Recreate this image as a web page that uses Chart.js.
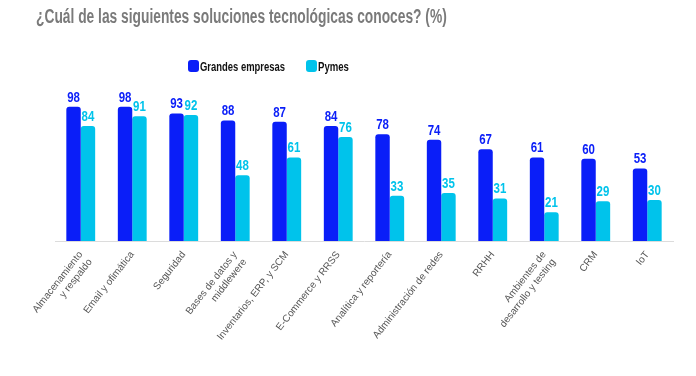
<!DOCTYPE html>
<html>
<head>
<script src="https://cdn.jsdelivr.net/npm/chart.js"></script>
<style>
  body { margin: 0; background: #fff; }
  #wrap { position: relative; width: 696px; height: 376px; font-family: 'Liberation Sans', Arial, sans-serif; }
  #title { position: absolute; left: 36px; top: 5px; font-size: 20px; font-weight: bold; color: #7a7a7a; white-space: nowrap; transform-origin: 0 0; }
  .lg { position: absolute; top: 59px; font-size: 13px; font-weight: bold; color: #111; white-space: nowrap; transform-origin: 0 0; }
  .lbox { position: absolute; top: 60px; width: 11px; height: 12px; border-radius: 3px; }
  canvas { position: absolute; left: 0; top: 0; }
</style>
</head>
<body>
<div id="wrap">
  <canvas id="chart" width="696" height="376"></canvas>
  <div id="title">¿Cuál de las siguientes soluciones tecnológicas conoces? (%)</div>
</div>
<script>
  var categories = [
    ['Almacenamiento', 'y respaldo'],
    'Email y ofimática',
    'Seguridad',
    ['Bases de datos y', 'middlewere'],
    'Inventarios, ERP, y SCM',
    'E-Commerce y RRSS',
    'Analítica y reportería',
    'Administración de redes',
    'RRHH',
    ['Ambientes de', 'desarrollo y testing'],
    'CRM',
    'IoT'
  ];
  var grandes = [98, 98, 93, 88, 87, 84, 78, 74, 67, 61, 60, 53];
  var pymes = [84, 91, 92, 48, 61, 76, 33, 35, 31, 21, 29, 30];
  var seriesNames = ['Grandes empresas', 'Pymes'];
  var seriesColors = ['#0a1ef8', '#00c3eb'];

  var valueLabels = {
    id: 'valueLabels',
    afterDatasetsDraw: function (chart) {
      var ctx = chart.ctx;
      ctx.save();
      ctx.font = 'bold 14px "Liberation Sans", Arial, sans-serif';
      ctx.textAlign = 'center';
      ctx.textBaseline = 'bottom';
      chart.data.datasets.forEach(function (ds, i) {
        ctx.fillStyle = seriesColors[i];
        chart.getDatasetMeta(i).data.forEach(function (bar, j) {
          ctx.save();
          ctx.translate(bar.x, bar.y - 2);
          ctx.scale(0.82, 1);
          ctx.fillText(ds.data[j], 0, 0);
          ctx.restore();
        });
      });
      ctx.restore();
    }
  };

  var ctx = document.getElementById('chart').getContext('2d');
  var chart = new Chart(ctx, {
    type: 'bar',
    data: {
      labels: categories,
      datasets: [
        { label: seriesNames[0], data: grandes, backgroundColor: seriesColors[0] },
        { label: seriesNames[1], data: pymes, backgroundColor: seriesColors[1] }
      ]
    },
    options: {
      responsive: false,
      animation: false,
      layout: { padding: { top: 104, left: 55, right: 23, bottom: 26 } },
      datasets: {
        bar: { categoryPercentage: 0.56, barPercentage: 1, borderRadius: { topLeft: 3, topRight: 3 }, borderSkipped: 'bottom' }
      },
      plugins: {
        legend: { display: false },
        tooltip: { enabled: false }
      },
      scales: {
        y: { display: false, min: 0, max: 100 },
        x: {
          grid: { display: false },
          border: { color: '#dcdcdc' },
          ticks: {
            color: '#555',
            font: { family: "'Liberation Sans', Arial, sans-serif", size: 10 },
            minRotation: 52,
            maxRotation: 52,
            padding: 0
          }
        }
      }
    },
    plugins: [valueLabels]
  });

  // squeeze the title to the condensed width of the original
  var title = document.getElementById('title');
  title.style.transform = 'scaleX(' + (411 / title.offsetWidth) + ')';

  // legend in html, placed where the original has it
  var wrap = document.getElementById('wrap');
  var legendPos = [{ box: 188, text: 200, width: 85 }, { box: 306, text: 318, width: 31 }];
  seriesNames.forEach(function (name, i) {
    var box = document.createElement('div');
    box.className = 'lbox';
    box.style.left = legendPos[i].box + 'px';
    box.style.background = seriesColors[i];
    wrap.appendChild(box);
    var txt = document.createElement('div');
    txt.className = 'lg';
    txt.style.left = legendPos[i].text + 'px';
    txt.textContent = name;
    wrap.appendChild(txt);
    txt.style.transform = 'scaleX(' + (legendPos[i].width / txt.offsetWidth) + ')';
  });
</script>
</body>
</html>
